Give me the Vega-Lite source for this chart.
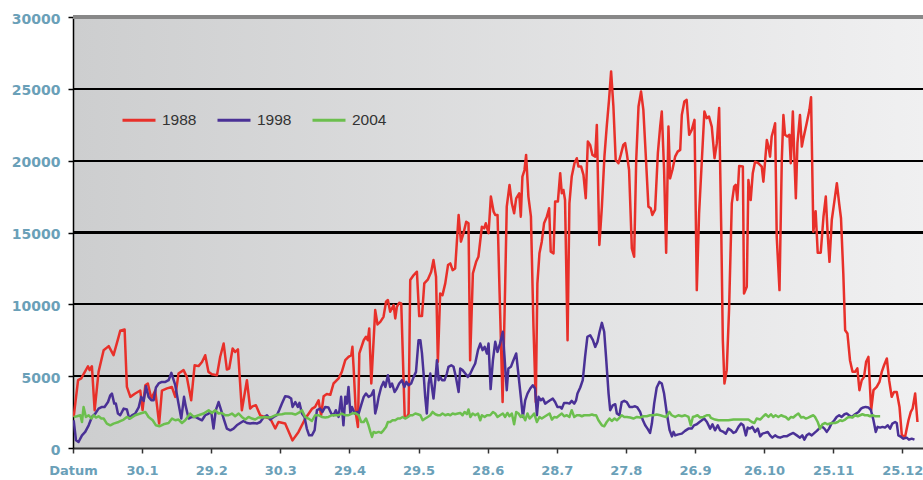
{
 "$schema": "https://vega.github.io/schema/vega-lite/v6.json",
 "width": 850,
 "height": 431,
 "autosize": {"type": "none"},
 "padding": {"left": 73, "top": 17, "right": 0, "bottom": 32},
 "background": "white",
 "config": {
  "view": {"stroke": null, "fill": {"gradient": "linear", "x1": 0, "y1": 0, "x2": 1, "y2": 0, "stops": [{"offset": 0, "color": "#cdcecf"}, {"offset": 1, "color": "#f0f0f1"}]}}
 },
 "data": {"values": [
{"series":"1988","day":0.3,"value":2160},{"series":"1988","day":2.2,"value":4720},{"series":"1988","day":3.6,"value":4840},{"series":"1988","day":4.6,"value":5150},{"series":"1988","day":6.5,"value":5690},{"series":"1988","day":7.2,"value":5420},{"series":"1988","day":8.2,"value":5690},{"series":"1988","day":9.4,"value":2630},{"series":"1988","day":11.1,"value":5300},{"series":"1988","day":13.3,"value":6810},{"series":"1988","day":15.5,"value":7090},{"series":"1988","day":17.6,"value":6460},{"series":"1988","day":19.8,"value":7740},{"series":"1988","day":20.5,"value":8160},{"series":"1988","day":22.4,"value":8250},{"series":"1988","day":23.4,"value":4250},{"series":"1988","day":24.9,"value":3560},{"series":"1988","day":27.0,"value":3790},{"series":"1988","day":29.2,"value":4000},{"series":"1988","day":30.2,"value":2640},{"series":"1988","day":31.4,"value":4370},{"series":"1988","day":32.5,"value":4490},{"series":"1988","day":34.0,"value":3440},{"series":"1988","day":35.7,"value":4000},{"series":"1988","day":37.4,"value":1700},{"series":"1988","day":38.6,"value":4000},{"series":"1988","day":40.8,"value":4150},{"series":"1988","day":42.9,"value":4250},{"series":"1988","day":44.4,"value":3560},{"series":"1988","day":45.8,"value":5180},{"series":"1988","day":48.0,"value":5420},{"series":"1988","day":49.4,"value":4950},{"series":"1988","day":51.3,"value":3320},{"series":"1988","day":52.8,"value":5760},{"series":"1988","day":54.5,"value":5700},{"series":"1988","day":56.0,"value":5990},{"series":"1988","day":57.4,"value":6460},{"series":"1988","day":58.8,"value":5300},{"series":"1988","day":60.3,"value":5130},{"series":"1988","day":62.5,"value":5060},{"series":"1988","day":63.9,"value":6350},{"series":"1988","day":65.4,"value":7270},{"series":"1988","day":66.8,"value":5460},{"series":"1988","day":67.8,"value":5530},{"series":"1988","day":69.3,"value":6920},{"series":"1988","day":70.4,"value":6690},{"series":"1988","day":71.6,"value":6860},{"series":"1988","day":73.3,"value":2630},{"series":"1988","day":75.5,"value":4720},{"series":"1988","day":76.9,"value":2750},{"series":"1988","day":77.9,"value":2900},{"series":"1988","day":79.4,"value":2980},{"series":"1988","day":81.3,"value":2270},{"series":"1988","day":83.2,"value":2160},{"series":"1988","day":85.6,"value":2050},{"series":"1988","day":87.8,"value":1360},{"series":"1988","day":89.2,"value":1810},{"series":"1988","day":92.1,"value":1700},{"series":"1988","day":95.3,"value":530},{"series":"1988","day":97.9,"value":1120},{"series":"1988","day":100.8,"value":2040},{"series":"1988","day":103.7,"value":2720},{"series":"1988","day":105.1,"value":2860},{"series":"1988","day":106.6,"value":3320},{"series":"1988","day":107.7,"value":2270},{"series":"1988","day":108.8,"value":3600},{"series":"1988","day":110.2,"value":3760},{"series":"1988","day":111.7,"value":3700},{"series":"1988","day":113.1,"value":4490},{"series":"1988","day":115.3,"value":4840},{"series":"1988","day":116.7,"value":5300},{"series":"1988","day":118.2,"value":6110},{"series":"1988","day":119.6,"value":6340},{"series":"1988","day":120.8,"value":6460},{"series":"1988","day":121.3,"value":7040},{"series":"1988","day":121.8,"value":5650},{"series":"1988","day":122.8,"value":2400},{"series":"1988","day":123.7,"value":1460},{"series":"1988","day":124.3,"value":6580},{"series":"1988","day":126.2,"value":7500},{"series":"1988","day":127.2,"value":7740},{"series":"1988","day":128.0,"value":7500},{"series":"1988","day":128.6,"value":8320},{"series":"1988","day":129.5,"value":4490},{"series":"1988","day":131.2,"value":9600},{"series":"1988","day":132.2,"value":8600},{"series":"1988","day":133.4,"value":8780},{"series":"1988","day":134.8,"value":9130},{"series":"1988","day":135.9,"value":10180},{"series":"1988","day":136.7,"value":10300},{"series":"1988","day":137.7,"value":9480},{"series":"1988","day":139.2,"value":9950},{"series":"1988","day":139.9,"value":9020},{"series":"1988","day":140.6,"value":9830},{"series":"1988","day":141.6,"value":10110},{"series":"1988","day":142.5,"value":10060},{"series":"1988","day":144.0,"value":2160},{"series":"1988","day":145.0,"value":2160},{"series":"1988","day":145.7,"value":2400},{"series":"1988","day":146.4,"value":11690},{"series":"1988","day":147.9,"value":12040},{"series":"1988","day":149.3,"value":12270},{"series":"1988","day":150.3,"value":9180},{"series":"1988","day":151.5,"value":9180},{"series":"1988","day":152.5,"value":11460},{"series":"1988","day":154.1,"value":11740},{"series":"1988","day":155.5,"value":12270},{"series":"1988","day":156.5,"value":13080},{"series":"1988","day":157.6,"value":11920},{"series":"1988","day":158.4,"value":6000},{"series":"1988","day":159.4,"value":10760},{"series":"1988","day":160.4,"value":10640},{"series":"1988","day":161.6,"value":11460},{"series":"1988","day":162.8,"value":12730},{"series":"1988","day":163.8,"value":12850},{"series":"1988","day":164.8,"value":12380},{"series":"1988","day":165.9,"value":12500},{"series":"1988","day":167.4,"value":16220},{"series":"1988","day":168.4,"value":14360},{"series":"1988","day":169.5,"value":14940},{"series":"1988","day":170.7,"value":15750},{"series":"1988","day":171.7,"value":15640},{"series":"1988","day":172.4,"value":6110},{"series":"1988","day":173.6,"value":12160},{"series":"1988","day":175.0,"value":12960},{"series":"1988","day":176.0,"value":13310},{"series":"1988","day":177.5,"value":15400},{"series":"1988","day":178.5,"value":15290},{"series":"1988","day":179.2,"value":15640},{"series":"1988","day":180.4,"value":14950},{"series":"1988","day":181.4,"value":17500},{"series":"1988","day":182.6,"value":16450},{"series":"1988","day":183.3,"value":16220},{"series":"1988","day":184.3,"value":16220},{"series":"1988","day":185.2,"value":10760},{"series":"1988","day":186.5,"value":3200},{"series":"1988","day":187.6,"value":11220},{"series":"1988","day":188.3,"value":16800},{"series":"1988","day":189.5,"value":18310},{"series":"1988","day":190.5,"value":17030},{"series":"1988","day":191.5,"value":16340},{"series":"1988","day":192.4,"value":17380},{"series":"1988","day":193.7,"value":17730},{"series":"1988","day":194.4,"value":16100},{"series":"1988","day":195.1,"value":18890},{"series":"1988","day":196.0,"value":19350},{"series":"1988","day":196.7,"value":20400},{"series":"1988","day":197.7,"value":17500},{"series":"1988","day":198.8,"value":16100},{"series":"1988","day":199.9,"value":8430},{"series":"1988","day":200.9,"value":3200},{"series":"1988","day":201.6,"value":11460},{"series":"1988","day":202.5,"value":13550},{"series":"1988","day":203.5,"value":14360},{"series":"1988","day":204.5,"value":15640},{"series":"1988","day":205.7,"value":16100},{"series":"1988","day":206.7,"value":16690},{"series":"1988","day":207.4,"value":13660},{"series":"1988","day":208.6,"value":13550},{"series":"1988","day":209.3,"value":17150},{"series":"1988","day":210.5,"value":17150},{"series":"1988","day":211.5,"value":19130},{"series":"1988","day":212.2,"value":17730},{"series":"1988","day":212.9,"value":17960},{"series":"1988","day":213.6,"value":17260},{"series":"1988","day":214.7,"value":7500},{"series":"1988","day":215.5,"value":17030},{"series":"1988","day":216.5,"value":18890},{"series":"1988","day":217.7,"value":19820},{"series":"1988","day":218.7,"value":20170},{"series":"1988","day":219.4,"value":19590},{"series":"1988","day":220.6,"value":19590},{"series":"1988","day":221.6,"value":19010},{"series":"1988","day":222.6,"value":17380},{"series":"1988","day":223.5,"value":21330},{"series":"1988","day":224.5,"value":21100},{"series":"1988","day":225.5,"value":20400},{"series":"1988","day":226.7,"value":20280},{"series":"1988","day":227.4,"value":22490},{"series":"1988","day":228.5,"value":14130},{"series":"1988","day":229.6,"value":16800},{"series":"1988","day":230.7,"value":20280},{"series":"1988","day":231.7,"value":22370},{"series":"1988","day":232.7,"value":24230},{"series":"1988","day":233.6,"value":26210},{"series":"1988","day":234.6,"value":23770},{"series":"1988","day":235.6,"value":20050},{"series":"1988","day":236.8,"value":19820},{"series":"1988","day":237.8,"value":20400},{"series":"1988","day":238.9,"value":21100},{"series":"1988","day":239.7,"value":21220},{"series":"1988","day":240.4,"value":20520},{"series":"1988","day":241.4,"value":19350},{"series":"1988","day":242.6,"value":13900},{"series":"1988","day":243.6,"value":13310},{"series":"1988","day":244.5,"value":20050},{"series":"1988","day":245.5,"value":23770},{"series":"1988","day":246.6,"value":24810},{"series":"1988","day":247.6,"value":23540},{"series":"1988","day":248.6,"value":20520},{"series":"1988","day":249.8,"value":16800},{"series":"1988","day":250.8,"value":16690},{"series":"1988","day":251.5,"value":16220},{"series":"1988","day":252.7,"value":16590},{"series":"1988","day":253.9,"value":20520},{"series":"1988","day":254.9,"value":22370},{"series":"1988","day":255.6,"value":23420},{"series":"1988","day":256.6,"value":19350},{"series":"1988","day":257.5,"value":13590},{"series":"1988","day":258.5,"value":22370},{"series":"1988","day":259.2,"value":18770},{"series":"1988","day":260.2,"value":19350},{"series":"1988","day":261.4,"value":20280},{"series":"1988","day":262.5,"value":20630},{"series":"1988","day":263.6,"value":20750},{"series":"1988","day":264.3,"value":23180},{"series":"1988","day":265.4,"value":24120},{"series":"1988","day":266.4,"value":24230},{"series":"1988","day":267.5,"value":21800},{"series":"1988","day":268.6,"value":22140},{"series":"1988","day":269.8,"value":22840},{"series":"1988","day":270.8,"value":10990},{"series":"1988","day":271.8,"value":16340},{"series":"1988","day":273.0,"value":20050},{"series":"1988","day":274.1,"value":23420},{"series":"1988","day":275.1,"value":22960},{"series":"1988","day":276.1,"value":23070},{"series":"1988","day":277.3,"value":22370},{"series":"1988","day":278.5,"value":20170},{"series":"1988","day":279.5,"value":21220},{"series":"1988","day":280.5,"value":23660},{"series":"1988","day":281.4,"value":15400},{"series":"1988","day":282.1,"value":7500},{"series":"1988","day":282.8,"value":4490},{"series":"1988","day":283.8,"value":5420},{"series":"1988","day":284.8,"value":9600},{"series":"1988","day":286.0,"value":17030},{"series":"1988","day":287.0,"value":18190},{"series":"1988","day":287.7,"value":18310},{"series":"1988","day":288.4,"value":17260},{"series":"1988","day":289.2,"value":19630},{"series":"1988","day":290.8,"value":19590},{"series":"1988","day":291.3,"value":10760},{"series":"1988","day":292.5,"value":11220},{"series":"1988","day":293.2,"value":18660},{"series":"1988","day":294.2,"value":17260},{"series":"1988","day":295.1,"value":19130},{"series":"1988","day":296.1,"value":19930},{"series":"1988","day":297.6,"value":19820},{"series":"1988","day":299.0,"value":19590},{"series":"1988","day":299.7,"value":18540},{"series":"1988","day":300.5,"value":20050},{"series":"1988","day":301.2,"value":21440},{"series":"1988","day":301.9,"value":20980},{"series":"1988","day":302.6,"value":20280},{"series":"1988","day":303.3,"value":21680},{"series":"1988","day":304.1,"value":22140},{"series":"1988","day":304.8,"value":22600},{"series":"1988","day":305.5,"value":14710},{"series":"1988","day":306.7,"value":10990},{"series":"1988","day":307.7,"value":20050},{"series":"1988","day":308.4,"value":23180},{"series":"1988","day":309.1,"value":21800},{"series":"1988","day":310.1,"value":21680},{"series":"1988","day":311.0,"value":21800},{"series":"1988","day":311.6,"value":19820},{"series":"1988","day":312.5,"value":23420},{"series":"1988","day":313.0,"value":20980},{"series":"1988","day":313.8,"value":17380},{"series":"1988","day":314.5,"value":21220},{"series":"1988","day":315.6,"value":23180},{"series":"1988","day":316.4,"value":20980},{"series":"1988","day":317.1,"value":21570},{"series":"1988","day":318.5,"value":22600},{"series":"1988","day":319.7,"value":23540},{"series":"1988","day":320.4,"value":24420},{"series":"1988","day":321.4,"value":15050},{"series":"1988","day":322.4,"value":16480},{"series":"1988","day":323.3,"value":13590},{"series":"1988","day":324.6,"value":13590},{"series":"1988","day":325.8,"value":16100},{"series":"1988","day":326.8,"value":17500},{"series":"1988","day":327.6,"value":14940},{"series":"1988","day":328.4,"value":12960},{"series":"1988","day":329.4,"value":15870},{"series":"1988","day":330.4,"value":17030},{"series":"1988","day":331.6,"value":18430},{"series":"1988","day":332.6,"value":17030},{"series":"1988","day":333.4,"value":15990},{"series":"1988","day":334.4,"value":12160},{"series":"1988","day":335.2,"value":8200},{"series":"1988","day":336.2,"value":7970},{"series":"1988","day":337.3,"value":6110},{"series":"1988","day":338.4,"value":5300},{"series":"1988","day":339.5,"value":5300},{"series":"1988","day":340.5,"value":5540},{"series":"1988","day":341.4,"value":4020},{"series":"1988","day":342.4,"value":4720},{"series":"1988","day":343.4,"value":4950},{"series":"1988","day":344.3,"value":6000},{"series":"1988","day":345.3,"value":6340},{"series":"1988","day":346.5,"value":2630},{"series":"1988","day":347.5,"value":4020},{"series":"1988","day":348.9,"value":4250},{"series":"1988","day":350.1,"value":4600},{"series":"1988","day":351.1,"value":5300},{"series":"1988","day":352.1,"value":5760},{"series":"1988","day":353.3,"value":6230},{"series":"1988","day":354.3,"value":4720},{"series":"1988","day":355.4,"value":3560},{"series":"1988","day":356.4,"value":3900},{"series":"1988","day":357.6,"value":3900},{"series":"1988","day":358.8,"value":2860},{"series":"1988","day":359.8,"value":890},{"series":"1988","day":361.2,"value":770},{"series":"1988","day":362.7,"value":1930},{"series":"1988","day":363.7,"value":2510},{"series":"1988","day":364.5,"value":2750},{"series":"1988","day":365.6,"value":3790},{"series":"1988","day":366.6,"value":1810},
{"series":"1998","day":0.3,"value":1930},{"series":"1998","day":1.3,"value":540},{"series":"1998","day":2.4,"value":420},{"series":"1998","day":3.9,"value":880},{"series":"1998","day":5.3,"value":1120},{"series":"1998","day":6.8,"value":1580},{"series":"1998","day":8.2,"value":2160},{"series":"1998","day":9.7,"value":2400},{"series":"1998","day":11.1,"value":2740},{"series":"1998","day":12.6,"value":2860},{"series":"1998","day":13.7,"value":2860},{"series":"1998","day":15.2,"value":3200},{"series":"1998","day":16.2,"value":3670},{"series":"1998","day":16.9,"value":3790},{"series":"1998","day":17.9,"value":3090},{"series":"1998","day":18.6,"value":3090},{"series":"1998","day":19.5,"value":2400},{"series":"1998","day":20.5,"value":2280},{"series":"1998","day":22.0,"value":2740},{"series":"1998","day":23.4,"value":2680},{"series":"1998","day":24.4,"value":2050},{"series":"1998","day":25.6,"value":2280},{"series":"1998","day":27.0,"value":2400},{"series":"1998","day":28.5,"value":2820},{"series":"1998","day":29.6,"value":3560},{"series":"1998","day":30.7,"value":3280},{"series":"1998","day":31.7,"value":4300},{"series":"1998","day":32.8,"value":3560},{"series":"1998","day":34.0,"value":3320},{"series":"1998","day":35.0,"value":3320},{"series":"1998","day":36.0,"value":4210},{"series":"1998","day":37.2,"value":4490},{"series":"1998","day":38.6,"value":4600},{"series":"1998","day":40.1,"value":4600},{"series":"1998","day":41.5,"value":4720},{"series":"1998","day":42.7,"value":5230},{"series":"1998","day":43.7,"value":4720},{"series":"1998","day":44.4,"value":4370},{"series":"1998","day":45.8,"value":3090},{"series":"1998","day":47.0,"value":2050},{"series":"1998","day":48.2,"value":3560},{"series":"1998","day":49.0,"value":2860},{"series":"1998","day":50.2,"value":2050},{"series":"1998","day":51.6,"value":2160},{"series":"1998","day":53.1,"value":2160},{"series":"1998","day":54.5,"value":2050},{"series":"1998","day":56.0,"value":1930},{"series":"1998","day":57.4,"value":2280},{"series":"1998","day":58.9,"value":2400},{"series":"1998","day":60.0,"value":2510},{"series":"1998","day":61.0,"value":1350},{"series":"1998","day":62.0,"value":2630},{"series":"1998","day":63.2,"value":3200},{"series":"1998","day":64.3,"value":2630},{"series":"1998","day":65.4,"value":2050},{"series":"1998","day":66.8,"value":1350},{"series":"1998","day":68.3,"value":1230},{"series":"1998","day":69.7,"value":1350},{"series":"1998","day":71.1,"value":1580},{"series":"1998","day":72.6,"value":1740},{"series":"1998","day":74.0,"value":1880},{"series":"1998","day":75.5,"value":1740},{"series":"1998","day":76.9,"value":1700},{"series":"1998","day":78.4,"value":1740},{"series":"1998","day":79.8,"value":1700},{"series":"1998","day":81.3,"value":1810},{"series":"1998","day":82.7,"value":2120},{"series":"1998","day":84.2,"value":2280},{"series":"1998","day":85.6,"value":1980},{"series":"1998","day":87.1,"value":2160},{"series":"1998","day":88.5,"value":2280},{"series":"1998","day":89.5,"value":2630},{"series":"1998","day":90.7,"value":3090},{"series":"1998","day":92.1,"value":3600},{"series":"1998","day":93.6,"value":3560},{"series":"1998","day":94.7,"value":3440},{"series":"1998","day":95.3,"value":2860},{"series":"1998","day":96.5,"value":3200},{"series":"1998","day":97.6,"value":2860},{"series":"1998","day":98.3,"value":3140},{"series":"1998","day":99.4,"value":2400},{"series":"1998","day":100.5,"value":2160},{"series":"1998","day":101.5,"value":1350},{"series":"1998","day":102.5,"value":880},{"series":"1998","day":103.7,"value":880},{"series":"1998","day":104.9,"value":1240},{"series":"1998","day":105.9,"value":2630},{"series":"1998","day":107.3,"value":2740},{"series":"1998","day":108.3,"value":2510},{"series":"1998","day":109.5,"value":2860},{"series":"1998","day":110.9,"value":2820},{"series":"1998","day":112.1,"value":2400},{"series":"1998","day":113.1,"value":2280},{"series":"1998","day":114.1,"value":2630},{"series":"1998","day":115.3,"value":2160},{"series":"1998","day":116.4,"value":3560},{"series":"1998","day":117.4,"value":1580},{"series":"1998","day":118.2,"value":3560},{"series":"1998","day":118.9,"value":3090},{"series":"1998","day":119.6,"value":4250},{"series":"1998","day":120.4,"value":2400},{"series":"1998","day":121.1,"value":2860},{"series":"1998","day":122.3,"value":2400},{"series":"1998","day":123.3,"value":2510},{"series":"1998","day":124.0,"value":2400},{"series":"1998","day":125.1,"value":2980},{"series":"1998","day":126.2,"value":3560},{"series":"1998","day":127.2,"value":3790},{"series":"1998","day":128.3,"value":3560},{"series":"1998","day":129.5,"value":3670},{"series":"1998","day":130.5,"value":4020},{"series":"1998","day":131.2,"value":2400},{"series":"1998","day":131.9,"value":2860},{"series":"1998","day":132.7,"value":3560},{"series":"1998","day":133.8,"value":4250},{"series":"1998","day":134.8,"value":4600},{"series":"1998","day":135.6,"value":4250},{"series":"1998","day":136.7,"value":5060},{"series":"1998","day":137.7,"value":4250},{"series":"1998","day":138.5,"value":4490},{"series":"1998","day":139.6,"value":3900},{"series":"1998","day":140.6,"value":4140},{"series":"1998","day":141.6,"value":4490},{"series":"1998","day":142.8,"value":4720},{"series":"1998","day":143.9,"value":4250},{"series":"1998","day":144.7,"value":4600},{"series":"1998","day":145.7,"value":4370},{"series":"1998","day":146.8,"value":4490},{"series":"1998","day":147.9,"value":4950},{"series":"1998","day":148.9,"value":5300},{"series":"1998","day":150.0,"value":7500},{"series":"1998","day":150.8,"value":7500},{"series":"1998","day":151.5,"value":6580},{"series":"1998","day":152.2,"value":5180},{"series":"1998","day":152.9,"value":3560},{"series":"1998","day":153.6,"value":2400},{"series":"1998","day":154.4,"value":4490},{"series":"1998","day":155.1,"value":5180},{"series":"1998","day":155.8,"value":4250},{"series":"1998","day":156.5,"value":3440},{"series":"1998","day":157.3,"value":4720},{"series":"1998","day":158.0,"value":6110},{"series":"1998","day":158.7,"value":4720},{"series":"1998","day":159.4,"value":4950},{"series":"1998","day":160.2,"value":4720},{"series":"1998","day":161.3,"value":4720},{"series":"1998","day":162.3,"value":5180},{"series":"1998","day":163.0,"value":5650},{"series":"1998","day":164.2,"value":5760},{"series":"1998","day":165.2,"value":5650},{"series":"1998","day":166.2,"value":4950},{"series":"1998","day":167.4,"value":3900},{"series":"1998","day":168.1,"value":5530},{"series":"1998","day":169.1,"value":5420},{"series":"1998","day":170.3,"value":5180},{"series":"1998","day":171.4,"value":4950},{"series":"1998","day":172.5,"value":5180},{"series":"1998","day":173.5,"value":5530},{"series":"1998","day":174.6,"value":5880},{"series":"1998","day":175.8,"value":6810},{"series":"1998","day":176.8,"value":7270},{"series":"1998","day":177.8,"value":6810},{"series":"1998","day":178.7,"value":7040},{"series":"1998","day":179.7,"value":6580},{"series":"1998","day":180.4,"value":7270},{"series":"1998","day":181.3,"value":4100},{"series":"1998","day":182.3,"value":6110},{"series":"1998","day":183.3,"value":7390},{"series":"1998","day":184.3,"value":6690},{"series":"1998","day":185.4,"value":7280},{"series":"1998","day":186.6,"value":8090},{"series":"1998","day":188.3,"value":4020},{"series":"1998","day":189.0,"value":5530},{"series":"1998","day":190.1,"value":5650},{"series":"1998","day":190.9,"value":5990},{"series":"1998","day":192.4,"value":6580},{"series":"1998","day":193.4,"value":5070},{"series":"1998","day":194.4,"value":3560},{"series":"1998","day":195.3,"value":2160},{"series":"1998","day":196.3,"value":3320},{"series":"1998","day":197.3,"value":3790},{"series":"1998","day":198.5,"value":4140},{"series":"1998","day":199.6,"value":4370},{"series":"1998","day":200.6,"value":4140},{"series":"1998","day":201.4,"value":2280},{"series":"1998","day":202.1,"value":3560},{"series":"1998","day":203.1,"value":3320},{"series":"1998","day":204.0,"value":3440},{"series":"1998","day":205.0,"value":3090},{"series":"1998","day":206.0,"value":3200},{"series":"1998","day":207.1,"value":3320},{"series":"1998","day":208.3,"value":3440},{"series":"1998","day":209.3,"value":3200},{"series":"1998","day":210.3,"value":2860},{"series":"1998","day":211.5,"value":2860},{"series":"1998","day":212.2,"value":2740},{"series":"1998","day":213.2,"value":3140},{"series":"1998","day":214.4,"value":3140},{"series":"1998","day":215.5,"value":3090},{"series":"1998","day":216.5,"value":3280},{"series":"1998","day":217.6,"value":3090},{"series":"1998","day":218.4,"value":3320},{"series":"1998","day":219.0,"value":3790},{"series":"1998","day":220.2,"value":4210},{"series":"1998","day":221.3,"value":4720},{"series":"1998","day":222.3,"value":6340},{"series":"1998","day":223.3,"value":7740},{"series":"1998","day":224.5,"value":7850},{"series":"1998","day":225.7,"value":7510},{"series":"1998","day":226.7,"value":7040},{"series":"1998","day":227.7,"value":7390},{"series":"1998","day":228.6,"value":8090},{"series":"1998","day":229.6,"value":8710},{"series":"1998","day":230.6,"value":8090},{"series":"1998","day":231.4,"value":6340},{"series":"1998","day":232.5,"value":3790},{"series":"1998","day":233.2,"value":2630},{"series":"1998","day":234.3,"value":2970},{"series":"1998","day":235.4,"value":3050},{"series":"1998","day":236.1,"value":2400},{"series":"1998","day":237.2,"value":2280},{"series":"1998","day":238.2,"value":3200},{"series":"1998","day":239.3,"value":3280},{"series":"1998","day":240.4,"value":3200},{"series":"1998","day":241.6,"value":2860},{"series":"1998","day":243.0,"value":2860},{"series":"1998","day":244.0,"value":2900},{"series":"1998","day":245.0,"value":2820},{"series":"1998","day":246.2,"value":2510},{"series":"1998","day":247.4,"value":1930},{"series":"1998","day":248.4,"value":1580},{"series":"1998","day":249.4,"value":1350},{"series":"1998","day":250.5,"value":1050},{"series":"1998","day":251.3,"value":1700},{"series":"1998","day":252.3,"value":3090},{"series":"1998","day":253.4,"value":4210},{"series":"1998","day":254.6,"value":4600},{"series":"1998","day":255.6,"value":4490},{"series":"1998","day":256.6,"value":3790},{"series":"1998","day":257.8,"value":2400},{"series":"1998","day":259.0,"value":1240},{"series":"1998","day":260.0,"value":810},{"series":"1998","day":260.7,"value":1120},{"series":"1998","day":261.4,"value":880},{"series":"1998","day":262.8,"value":950},{"series":"1998","day":264.3,"value":1000},{"series":"1998","day":265.7,"value":1190},{"series":"1998","day":267.2,"value":1350},{"series":"1998","day":268.6,"value":1350},{"series":"1998","day":269.6,"value":1580},{"series":"1998","day":270.8,"value":1650},{"series":"1998","day":272.0,"value":1810},{"series":"1998","day":273.0,"value":1930},{"series":"1998","day":274.0,"value":2050},{"series":"1998","day":275.2,"value":1810},{"series":"1998","day":276.6,"value":1350},{"series":"1998","day":277.6,"value":1650},{"series":"1998","day":278.7,"value":1230},{"series":"1998","day":279.9,"value":1580},{"series":"1998","day":280.9,"value":1230},{"series":"1998","day":282.4,"value":1120},{"series":"1998","day":283.4,"value":1000},{"series":"1998","day":284.5,"value":1350},{"series":"1998","day":285.7,"value":1230},{"series":"1998","day":286.7,"value":1050},{"series":"1998","day":287.7,"value":1120},{"series":"1998","day":288.9,"value":1470},{"series":"1998","day":290.0,"value":1700},{"series":"1998","day":291.0,"value":1580},{"series":"1998","day":292.1,"value":880},{"series":"1998","day":292.9,"value":1420},{"series":"1998","day":293.9,"value":1350},{"series":"1998","day":294.9,"value":1470},{"series":"1998","day":296.1,"value":1120},{"series":"1998","day":297.3,"value":1350},{"series":"1998","day":298.3,"value":810},{"series":"1998","day":299.3,"value":1000},{"series":"1998","day":300.4,"value":1050},{"series":"1998","day":301.6,"value":1120},{"series":"1998","day":302.6,"value":880},{"series":"1998","day":303.6,"value":720},{"series":"1998","day":304.8,"value":880},{"series":"1998","day":305.9,"value":770},{"series":"1998","day":307.0,"value":720},{"series":"1998","day":308.4,"value":810},{"series":"1998","day":309.8,"value":810},{"series":"1998","day":311.3,"value":950},{"series":"1998","day":312.7,"value":1050},{"series":"1998","day":314.2,"value":880},{"series":"1998","day":315.6,"value":720},{"series":"1998","day":316.6,"value":880},{"series":"1998","day":317.5,"value":580},{"series":"1998","day":318.5,"value":880},{"series":"1998","day":319.5,"value":1000},{"series":"1998","day":320.7,"value":880},{"series":"1998","day":321.9,"value":1050},{"series":"1998","day":322.9,"value":1190},{"series":"1998","day":323.9,"value":1350},{"series":"1998","day":325.0,"value":1510},{"series":"1998","day":326.2,"value":1350},{"series":"1998","day":327.2,"value":1120},{"series":"1998","day":328.2,"value":1350},{"series":"1998","day":329.4,"value":1740},{"series":"1998","day":330.5,"value":1930},{"series":"1998","day":331.5,"value":2160},{"series":"1998","day":332.6,"value":2280},{"series":"1998","day":333.7,"value":2160},{"series":"1998","day":334.9,"value":2350},{"series":"1998","day":335.9,"value":2400},{"series":"1998","day":336.9,"value":2280},{"series":"1998","day":338.1,"value":2160},{"series":"1998","day":339.5,"value":2350},{"series":"1998","day":341.0,"value":2510},{"series":"1998","day":342.1,"value":2740},{"series":"1998","day":343.1,"value":2820},{"series":"1998","day":344.1,"value":2860},{"series":"1998","day":345.3,"value":2820},{"series":"1998","day":346.4,"value":2630},{"series":"1998","day":347.5,"value":1930},{"series":"1998","day":348.5,"value":1120},{"series":"1998","day":349.3,"value":1470},{"series":"1998","day":350.4,"value":1420},{"series":"1998","day":351.4,"value":1470},{"series":"1998","day":352.5,"value":1420},{"series":"1998","day":353.7,"value":1580},{"series":"1998","day":354.7,"value":1350},{"series":"1998","day":355.7,"value":1700},{"series":"1998","day":356.9,"value":1810},{"series":"1998","day":357.6,"value":1740},{"series":"1998","day":358.3,"value":880},{"series":"1998","day":359.5,"value":770},{"series":"1998","day":360.5,"value":650},{"series":"1998","day":361.9,"value":720},{"series":"1998","day":362.9,"value":580},{"series":"1998","day":364.1,"value":650},{"series":"1998","day":365.3,"value":580},
{"series":"2004","day":0.3,"value":2160},{"series":"2004","day":1.7,"value":2210},{"series":"2004","day":3.2,"value":2280},{"series":"2004","day":3.9,"value":1810},{"series":"2004","day":4.6,"value":2860},{"series":"2004","day":5.6,"value":2160},{"series":"2004","day":6.8,"value":2280},{"series":"2004","day":8.0,"value":2050},{"series":"2004","day":9.0,"value":2280},{"series":"2004","day":10.0,"value":2120},{"series":"2004","day":11.1,"value":2210},{"series":"2004","day":12.3,"value":2050},{"series":"2004","day":13.3,"value":2050},{"series":"2004","day":14.7,"value":1700},{"series":"2004","day":16.2,"value":1580},{"series":"2004","day":17.6,"value":1700},{"series":"2004","day":19.8,"value":1810},{"series":"2004","day":22.0,"value":1980},{"series":"2004","day":23.4,"value":2160},{"series":"2004","day":24.9,"value":2050},{"series":"2004","day":27.0,"value":2280},{"series":"2004","day":29.2,"value":2400},{"series":"2004","day":31.4,"value":2510},{"series":"2004","day":32.8,"value":2160},{"series":"2004","day":34.6,"value":1930},{"series":"2004","day":36.0,"value":1580},{"series":"2004","day":37.5,"value":1510},{"series":"2004","day":39.3,"value":1650},{"series":"2004","day":41.5,"value":1740},{"series":"2004","day":43.0,"value":2050},{"series":"2004","day":44.4,"value":1930},{"series":"2004","day":45.8,"value":1980},{"series":"2004","day":47.3,"value":1740},{"series":"2004","day":48.7,"value":1930},{"series":"2004","day":50.9,"value":2400},{"series":"2004","day":52.4,"value":2160},{"series":"2004","day":54.5,"value":2280},{"series":"2004","day":56.7,"value":2400},{"series":"2004","day":58.9,"value":2630},{"series":"2004","day":60.3,"value":2440},{"series":"2004","day":61.7,"value":2630},{"series":"2004","day":63.2,"value":2400},{"series":"2004","day":64.6,"value":2440},{"series":"2004","day":66.1,"value":2280},{"series":"2004","day":67.5,"value":2280},{"series":"2004","day":69.0,"value":2400},{"series":"2004","day":70.4,"value":2210},{"series":"2004","day":71.9,"value":2400},{"series":"2004","day":73.3,"value":2160},{"series":"2004","day":74.8,"value":1980},{"series":"2004","day":76.2,"value":2160},{"series":"2004","day":77.7,"value":2050},{"series":"2004","day":79.1,"value":1980},{"series":"2004","day":80.5,"value":2120},{"series":"2004","day":82.0,"value":2120},{"series":"2004","day":83.4,"value":2160},{"series":"2004","day":84.9,"value":2120},{"series":"2004","day":86.3,"value":2160},{"series":"2004","day":87.8,"value":2280},{"series":"2004","day":89.2,"value":2330},{"series":"2004","day":90.7,"value":2350},{"series":"2004","day":92.1,"value":2400},{"series":"2004","day":93.6,"value":2400},{"series":"2004","day":95.0,"value":2400},{"series":"2004","day":96.5,"value":2330},{"series":"2004","day":97.9,"value":2440},{"series":"2004","day":99.4,"value":2630},{"series":"2004","day":100.8,"value":2160},{"series":"2004","day":102.2,"value":2050},{"series":"2004","day":103.7,"value":1880},{"series":"2004","day":105.1,"value":2280},{"series":"2004","day":106.6,"value":2280},{"series":"2004","day":108.0,"value":2160},{"series":"2004","day":109.5,"value":2120},{"series":"2004","day":110.9,"value":2160},{"series":"2004","day":112.4,"value":2280},{"series":"2004","day":113.8,"value":2280},{"series":"2004","day":115.3,"value":2280},{"series":"2004","day":116.7,"value":2400},{"series":"2004","day":118.2,"value":2280},{"series":"2004","day":119.6,"value":2280},{"series":"2004","day":121.1,"value":2400},{"series":"2004","day":122.5,"value":2440},{"series":"2004","day":124.0,"value":2280},{"series":"2004","day":125.1,"value":1810},{"series":"2004","day":126.2,"value":1810},{"series":"2004","day":127.2,"value":2050},{"series":"2004","day":128.3,"value":1580},{"series":"2004","day":129.1,"value":1120},{"series":"2004","day":129.8,"value":770},{"series":"2004","day":130.5,"value":1120},{"series":"2004","day":131.5,"value":1050},{"series":"2004","day":132.7,"value":1120},{"series":"2004","day":133.8,"value":1050},{"series":"2004","day":134.8,"value":1230},{"series":"2004","day":135.9,"value":1460},{"series":"2004","day":136.7,"value":1810},{"series":"2004","day":137.7,"value":1810},{"series":"2004","day":138.7,"value":1930},{"series":"2004","day":139.9,"value":1930},{"series":"2004","day":141.0,"value":2050},{"series":"2004","day":142.0,"value":2050},{"series":"2004","day":143.1,"value":2160},{"series":"2004","day":144.2,"value":2050},{"series":"2004","day":145.4,"value":2160},{"series":"2004","day":146.4,"value":2280},{"series":"2004","day":147.4,"value":2280},{"series":"2004","day":148.6,"value":2400},{"series":"2004","day":149.7,"value":2350},{"series":"2004","day":150.8,"value":2280},{"series":"2004","day":151.8,"value":1930},{"series":"2004","day":152.9,"value":2050},{"series":"2004","day":154.0,"value":2160},{"series":"2004","day":155.1,"value":2280},{"series":"2004","day":156.1,"value":2510},{"series":"2004","day":157.3,"value":2350},{"series":"2004","day":158.4,"value":2280},{"series":"2004","day":159.4,"value":2280},{"series":"2004","day":160.4,"value":2400},{"series":"2004","day":161.6,"value":2280},{"series":"2004","day":162.8,"value":2350},{"series":"2004","day":163.8,"value":2280},{"series":"2004","day":164.8,"value":2400},{"series":"2004","day":165.9,"value":2350},{"series":"2004","day":167.1,"value":2400},{"series":"2004","day":168.1,"value":2440},{"series":"2004","day":169.1,"value":2280},{"series":"2004","day":170.0,"value":2510},{"series":"2004","day":171.0,"value":2350},{"series":"2004","day":171.7,"value":2680},{"series":"2004","day":172.5,"value":2160},{"series":"2004","day":173.5,"value":2400},{"series":"2004","day":174.6,"value":2280},{"series":"2004","day":175.8,"value":2400},{"series":"2004","day":176.8,"value":1930},{"series":"2004","day":177.5,"value":2280},{"series":"2004","day":178.7,"value":2160},{"series":"2004","day":179.7,"value":2280},{"series":"2004","day":180.7,"value":2280},{"series":"2004","day":181.1,"value":2280},{"series":"2004","day":182.3,"value":2510},{"series":"2004","day":183.3,"value":2400},{"series":"2004","day":184.3,"value":2160},{"series":"2004","day":185.4,"value":2280},{"series":"2004","day":186.6,"value":2400},{"series":"2004","day":187.6,"value":2160},{"series":"2004","day":188.6,"value":2440},{"series":"2004","day":189.5,"value":2210},{"series":"2004","day":190.5,"value":2400},{"series":"2004","day":191.5,"value":1650},{"series":"2004","day":192.4,"value":2510},{"series":"2004","day":193.4,"value":2400},{"series":"2004","day":194.4,"value":2160},{"series":"2004","day":195.3,"value":2280},{"series":"2004","day":196.3,"value":1930},{"series":"2004","day":197.3,"value":2400},{"series":"2004","day":198.2,"value":2050},{"series":"2004","day":199.2,"value":2210},{"series":"2004","day":200.2,"value":2400},{"series":"2004","day":201.4,"value":1810},{"series":"2004","day":202.5,"value":2160},{"series":"2004","day":203.5,"value":2050},{"series":"2004","day":204.5,"value":2160},{"series":"2004","day":205.7,"value":2280},{"series":"2004","day":206.9,"value":2400},{"series":"2004","day":207.9,"value":1980},{"series":"2004","day":208.9,"value":2160},{"series":"2004","day":210.0,"value":2120},{"series":"2004","day":211.2,"value":2280},{"series":"2004","day":212.2,"value":2400},{"series":"2004","day":213.2,"value":2210},{"series":"2004","day":214.4,"value":2280},{"series":"2004","day":215.5,"value":2160},{"series":"2004","day":216.5,"value":2630},{"series":"2004","day":217.6,"value":2160},{"series":"2004","day":218.7,"value":2280},{"series":"2004","day":219.9,"value":2280},{"series":"2004","day":220.9,"value":2210},{"series":"2004","day":221.9,"value":2280},{"series":"2004","day":223.1,"value":2280},{"series":"2004","day":224.2,"value":2280},{"series":"2004","day":225.3,"value":2330},{"series":"2004","day":226.2,"value":2280},{"series":"2004","day":227.1,"value":2280},{"series":"2004","day":228.1,"value":1930},{"series":"2004","day":229.6,"value":1580},{"series":"2004","day":230.6,"value":1510},{"series":"2004","day":231.7,"value":1810},{"series":"2004","day":232.9,"value":2050},{"series":"2004","day":233.9,"value":1880},{"series":"2004","day":235.1,"value":2050},{"series":"2004","day":236.1,"value":1930},{"series":"2004","day":237.3,"value":2120},{"series":"2004","day":238.2,"value":2280},{"series":"2004","day":239.3,"value":2160},{"series":"2004","day":240.4,"value":2160},{"series":"2004","day":241.9,"value":2120},{"series":"2004","day":243.3,"value":2050},{"series":"2004","day":244.8,"value":2160},{"series":"2004","day":246.2,"value":2120},{"series":"2004","day":247.7,"value":2210},{"series":"2004","day":249.1,"value":2210},{"series":"2004","day":250.5,"value":2280},{"series":"2004","day":252.0,"value":2280},{"series":"2004","day":253.4,"value":2330},{"series":"2004","day":254.9,"value":2280},{"series":"2004","day":256.3,"value":2210},{"series":"2004","day":257.5,"value":2160},{"series":"2004","day":258.9,"value":2510},{"series":"2004","day":259.9,"value":2280},{"series":"2004","day":261.4,"value":2160},{"series":"2004","day":262.8,"value":2280},{"series":"2004","day":264.3,"value":2210},{"series":"2004","day":265.7,"value":2280},{"series":"2004","day":267.2,"value":2160},{"series":"2004","day":268.2,"value":1580},{"series":"2004","day":269.1,"value":2160},{"series":"2004","day":270.1,"value":2210},{"series":"2004","day":271.1,"value":2280},{"series":"2004","day":272.2,"value":2120},{"series":"2004","day":273.7,"value":2160},{"series":"2004","day":275.1,"value":2280},{"series":"2004","day":276.3,"value":2280},{"series":"2004","day":276.9,"value":2100},{"series":"2004","day":278.7,"value":1980},{"series":"2004","day":280.2,"value":1930},{"series":"2004","day":282.4,"value":1930},{"series":"2004","day":284.5,"value":1930},{"series":"2004","day":286.7,"value":1980},{"series":"2004","day":288.9,"value":1980},{"series":"2004","day":291.0,"value":1980},{"series":"2004","day":293.2,"value":1980},{"series":"2004","day":294.7,"value":1810},{"series":"2004","day":295.8,"value":1740},{"series":"2004","day":296.8,"value":2050},{"series":"2004","day":298.3,"value":1980},{"series":"2004","day":299.7,"value":2210},{"series":"2004","day":300.7,"value":2350},{"series":"2004","day":301.9,"value":2160},{"series":"2004","day":303.0,"value":2350},{"series":"2004","day":304.0,"value":2160},{"series":"2004","day":305.0,"value":2280},{"series":"2004","day":306.2,"value":2160},{"series":"2004","day":307.4,"value":2280},{"series":"2004","day":308.4,"value":2210},{"series":"2004","day":309.4,"value":2160},{"series":"2004","day":310.6,"value":1980},{"series":"2004","day":311.7,"value":2160},{"series":"2004","day":312.7,"value":2120},{"series":"2004","day":313.8,"value":2280},{"series":"2004","day":314.9,"value":2400},{"series":"2004","day":316.1,"value":2120},{"series":"2004","day":317.1,"value":2160},{"series":"2004","day":318.1,"value":2050},{"series":"2004","day":319.2,"value":2120},{"series":"2004","day":320.4,"value":2210},{"series":"2004","day":321.4,"value":2280},{"series":"2004","day":322.1,"value":2160},{"series":"2004","day":323.3,"value":1810},{"series":"2004","day":324.3,"value":1350},{"series":"2004","day":325.3,"value":1650},{"series":"2004","day":326.5,"value":1740},{"series":"2004","day":327.6,"value":1650},{"series":"2004","day":328.7,"value":1700},{"series":"2004","day":329.7,"value":1740},{"series":"2004","day":330.8,"value":1740},{"series":"2004","day":332.0,"value":1810},{"series":"2004","day":333.0,"value":1930},{"series":"2004","day":334.0,"value":1880},{"series":"2004","day":335.2,"value":1980},{"series":"2004","day":336.3,"value":2120},{"series":"2004","day":337.3,"value":2160},{"series":"2004","day":338.4,"value":2120},{"series":"2004","day":339.5,"value":2280},{"series":"2004","day":340.7,"value":2210},{"series":"2004","day":341.7,"value":2280},{"series":"2004","day":342.7,"value":2350},{"series":"2004","day":343.8,"value":2280},{"series":"2004","day":345.0,"value":2280},{"series":"2004","day":346.0,"value":2210},{"series":"2004","day":347.0,"value":2280},{"series":"2004","day":348.2,"value":2210},{"series":"2004","day":349.3,"value":2210},{"series":"2004","day":350.4,"value":2210}
 ]},
 "layer": [
  {"mark": {"type": "rule", "color": "#000000", "strokeWidth": 1.5}, "encoding": {"y": {"datum": 5000, "type": "quantitative"}}},
  {"mark": {"type": "rule", "color": "#000000", "strokeWidth": 1.5}, "encoding": {"y": {"datum": 10000, "type": "quantitative"}}},
  {"mark": {"type": "rule", "color": "#000000", "strokeWidth": 1.5}, "encoding": {"y": {"datum": 15000, "type": "quantitative"}}},
  {"mark": {"type": "rule", "color": "#000000", "strokeWidth": 1.5}, "encoding": {"y": {"datum": 20000, "type": "quantitative"}}},
  {"mark": {"type": "rule", "color": "#000000", "strokeWidth": 1.5}, "encoding": {"y": {"datum": 25000, "type": "quantitative"}}},
  {"mark": {"type": "rule", "color": "#888888", "strokeWidth": 2.5}, "encoding": {"y": {"datum": 30000, "type": "quantitative"}}},
  {
   "mark": {"type": "line", "strokeWidth": 2.5, "strokeJoin": "round", "clip": true},
   "encoding": {
    "x": {"field": "day", "type": "quantitative",
     "scale": {"domain": [0, 369], "nice": false, "zero": false},
     "axis": {"values": [0, 30, 60, 90, 120, 150, 180, 210, 240, 270, 300, 330, 360],
      "labelExpr": "['Datum','30.1','29.2','30.3','29.4','29.5','28.6','28.7','27.8','26.9','26.10','25.11','25.12'][round(datum.value/30)]",
      "title": null, "grid": false, "domainColor": "#333333", "domainWidth": 2, "tickColor": "#333333", "tickWidth": 1.5, "tickSize": 5,
      "labelPadding": 11, "labelFont": "DejaVu Sans", "labelFontWeight": "bold", "labelFontSize": 13, "labelColor": "#6aa0b8", "labelFlush": false, "labelOverlap": false}},
    "y": {"field": "value", "type": "quantitative",
     "scale": {"domain": [0, 30000], "nice": false},
     "axis": {"values": [0, 5000, 10000, 15000, 20000, 25000, 30000], "format": "d", "title": null, "grid": false,
      "domainColor": "#000000", "domainWidth": 1.5, "tickColor": "#000000", "tickWidth": 1.5, "tickSize": 5,
      "labelPadding": 8, "labelOffset": 2, "labelFont": "DejaVu Sans", "labelFontWeight": "bold", "labelFontSize": 14, "labelColor": "#6aa0b8", "labelFlush": false}},
    "color": {"field": "series", "type": "nominal",
     "scale": {"domain": ["1988", "1998", "2004"], "range": ["#e8302a", "#4a3196", "#6cbf4e"]},
     "legend": {"orient": "none", "legendX": 48, "legendY": 85, "direction": "horizontal", "title": null,
      "symbolType": "stroke", "symbolSize": 1089, "symbolStrokeWidth": 3, "labelFont": "Liberation Sans", "labelFontSize": 15.5,
      "labelColor": "#333333", "labelOffset": 5, "columnPadding": 14, "padding": 0}}
   }
  }
 ]
}
